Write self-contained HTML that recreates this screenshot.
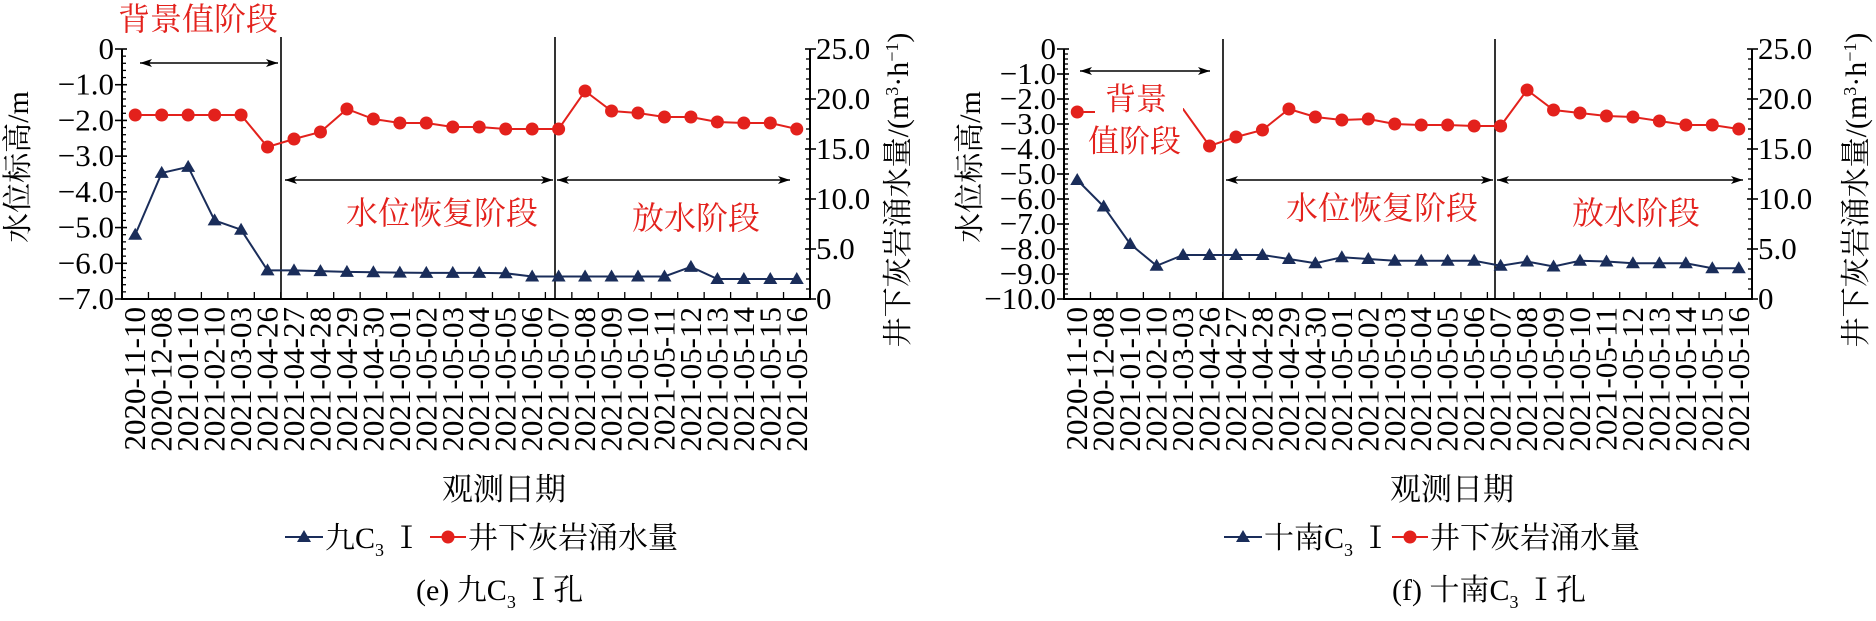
<!DOCTYPE html>
<html><head><meta charset="utf-8">
<style>
html,body{margin:0;padding:0;background:#fff;}
svg{display:block;font-family:"Liberation Serif","Noto Serif CJK SC",serif;}
</style></head>
<body>
<svg id="s" width="1876" height="621" viewBox="0 0 1876 621" xmlns="http://www.w3.org/2000/svg"></svg>
<script>
const R="#e3211c",B="#1a2d5a";
const dates=["2020-11-10","2020-12-08","2021-01-10","2021-02-10","2021-03-03","2021-04-26","2021-04-27","2021-04-28","2021-04-29","2021-04-30","2021-05-01","2021-05-02","2021-05-03","2021-05-04","2021-05-05","2021-05-06","2021-05-07","2021-05-08","2021-05-09","2021-05-10","2021-05-11","2021-05-12","2021-05-13","2021-05-14","2021-05-15","2021-05-16"];
let h="";
function chart(o){
 const L=o.L,Rx=L+688,T=49,Bt=299,w=688/26;
 const px=i=>L+w*(i+0.5);
 const yl=v=>T+(Bt-T)*v/o.lmax;
 const yr=v=>Bt-(Bt-T)*v/25;
 h+=`<line x1="${o.l1}" y1="${o.lt}" x2="${o.l1}" y2="${Bt}" stroke="#000" stroke-width="1.6"/>`;
 h+=`<line x1="${o.l2}" y1="${o.lt}" x2="${o.l2}" y2="${Bt}" stroke="#000" stroke-width="1.6"/>`;
 h+=`<path d="M${L},${T} V${Bt} H${Rx} V${T}" fill="none" stroke="#000" stroke-width="2"/>`;
 const steps=o.lmax*5;
 for(let k=0;k<=steps;k++){const y=T+(Bt-T)*k/steps;
  if(k%5==0){h+=`<line x1="${L-7}" y1="${y}" x2="${L+5}" y2="${y}" stroke="#000" stroke-width="1.6"/>`;
   const v=k/5;const t=v==0?"0":"\u2212"+v.toFixed(1);
   h+=`<text x="${L-8}" y="${y+10}" font-size="31" text-anchor="end">${t}</text>`;}
  else h+=`<line x1="${L}" y1="${y}" x2="${L+4}" y2="${y}" stroke="#000" stroke-width="1.3"/>`;}
 for(let k=0;k<=25;k++){const y=Bt-(Bt-T)*k/25;
  if(k%5==0){h+=`<line x1="${Rx-5}" y1="${y}" x2="${Rx+6}" y2="${y}" stroke="#000" stroke-width="1.6"/>`;
   h+=`<text x="${Rx+6}" y="${y+10}" font-size="31">${k==0?"0":k.toFixed(1)}</text>`;}
  else h+=`<line x1="${Rx-4}" y1="${y}" x2="${Rx}" y2="${y}" stroke="#000" stroke-width="1.3"/>`;}
 for(let i=0;i<=26;i++){const x=L+w*i;h+=`<line x1="${x}" y1="${Bt}" x2="${x}" y2="${Bt-7}" stroke="#000" stroke-width="1.3"/>`;}
 dates.forEach((d,i)=>{const x=px(i)+10;h+=`<text transform="translate(${x},${Bt+8}) rotate(-90)" font-size="31" text-anchor="end">${d}</text>`;});
 let p=o.red.map((v,i)=>`${px(i)},${yr(v)}`).join(" ");
 h+=`<polyline points="${p}" fill="none" stroke="${R}" stroke-width="2"/>`;
 if(o.cover)h+=`<rect x="${o.cover[0]}" y="${o.cover[1]}" width="${o.cover[2]}" height="${o.cover[3]}" fill="#fff"/>`;
 o.red.forEach((v,i)=>{if(o.hide&&o.hide.includes(i))return;h+=`<circle cx="${px(i)}" cy="${yr(v)}" r="6.5" fill="${R}"/>`;});
 p=o.blue.map((v,i)=>`${px(i)},${yl(v)}`).join(" ");
 h+=`<polyline points="${p}" fill="none" stroke="${B}" stroke-width="2"/>`;
 o.blue.forEach((v,i)=>{const x=px(i),y=yl(v);h+=`<path d="M${x},${y-7} L${x+7},${y+5} L${x-7},${y+5}Z" fill="${B}"/>`;});
 const arr=(x1,x2,y)=>{h+=`<line x1="${x1}" y1="${y}" x2="${x2}" y2="${y}" stroke="#000" stroke-width="1.6"/>`;
  h+=`<path d="M${x1},${y} l12,-4 l-3,4 l3,4z M${x2},${y} l-12,-4 l3,4 l-3,4z" fill="#000"/>`;};
 arr(o.a1[0],o.a1[1],o.a1[2]);arr(o.a2[0],o.a2[1],180);arr(o.a3[0],o.a3[1],180);
 o.lab.forEach(t=>h+=`<text x="${t[0]}" y="${t[1]}" font-size="${t[3]||32}" fill="${R}">${t[2]}</text>`);
 h+=`<text transform="translate(${o.yt},167) rotate(-90)" font-size="30" text-anchor="middle">水位标高/m</text>`;
 h+=`<text transform="translate(${o.y2t},190) rotate(-90)" font-size="30" text-anchor="middle">井下灰岩涌水量/(m<tspan font-size="18" dy="-10">3</tspan><tspan dy="10">·h</tspan><tspan font-size="18" dy="-10">−1</tspan><tspan dy="10">)</tspan></text>`;
 h+=`<text x="${o.xt}" y="500" font-size="31" text-anchor="middle">观测日期</text>`;
 const lx=o.lg;
 h+=`<line x1="${lx}" y1="537" x2="${lx+38}" y2="537" stroke="${B}" stroke-width="2"/><path d="M${lx+19},${530} l7,12 l-14,0z" fill="${B}"/>`;
 h+=`<text x="${lx+40}" y="548" font-size="30">${o.nm}C<tspan font-size="18" dy="8">3</tspan><tspan dy="-8"> Ⅰ</tspan></text>`;
 const rx=o.lg2;
 h+=`<line x1="${rx}" y1="537" x2="${rx+36}" y2="537" stroke="${R}" stroke-width="2"/><circle cx="${rx+18}" cy="537" r="6.5" fill="${R}"/>`;
 h+=`<text x="${rx+38}" y="548" font-size="30">井下灰岩涌水量</text>`;
 h+=`<text x="${o.cap}" y="600" font-size="30">${o.cp}C<tspan font-size="18" dy="8">3</tspan><tspan dy="-8"> Ⅰ孔</tspan></text>`;
}
chart({L:122,lmax:7,l1:281,l2:555,lt:37,
 blue:[5.2,3.47,3.3,4.8,5.06,6.2,6.2,6.22,6.24,6.25,6.26,6.27,6.27,6.27,6.28,6.37,6.37,6.37,6.37,6.37,6.37,6.1,6.44,6.44,6.44,6.44],
 red:[18.4,18.4,18.4,18.4,18.4,15.2,16.0,16.7,19.0,18.0,17.6,17.6,17.2,17.2,17.0,17.0,17.0,20.8,18.8,18.6,18.2,18.2,17.7,17.6,17.6,17.0],
 a1:[140,278,63],a2:[285,553],a3:[557,790],
 lab:[[118,30,"背景值阶段"],[346,224,"水位恢复阶段"],[632,229,"放水阶段"]],
 yt:28,y2t:908,xt:504,lg:285,lg2:430,nm:"九",cap:416,cp:"(e) 九"});
chart({L:1064,lmax:10,l1:1223,l2:1495,lt:39,
 blue:[5.24,6.3,7.8,8.67,8.24,8.24,8.24,8.24,8.4,8.57,8.33,8.4,8.47,8.47,8.47,8.47,8.67,8.5,8.7,8.47,8.5,8.57,8.57,8.57,8.77,8.77],
 red:[18.7,18.7,18.7,18.8,19.0,15.3,16.2,16.9,19.0,18.2,17.9,18.0,17.5,17.4,17.4,17.3,17.3,20.9,18.9,18.6,18.3,18.2,17.8,17.4,17.4,17.0],
 hide:[1,2,3,4],cover:[1095,75,88,85],
 a1:[1080,1210,71],a2:[1226,1493],a3:[1497,1743],
 lab:[[1105,110,"背景",31],[1088,152,"值阶段",31],[1286,219,"水位恢复阶段"],[1572,224,"放水阶段"]],
 yt:980,y2t:1866,xt:1452,lg:1224,lg2:1392,nm:"十南",cap:1392,cp:"(f) 十南"});
document.getElementById("s").innerHTML=h;
</script>
</body></html>
